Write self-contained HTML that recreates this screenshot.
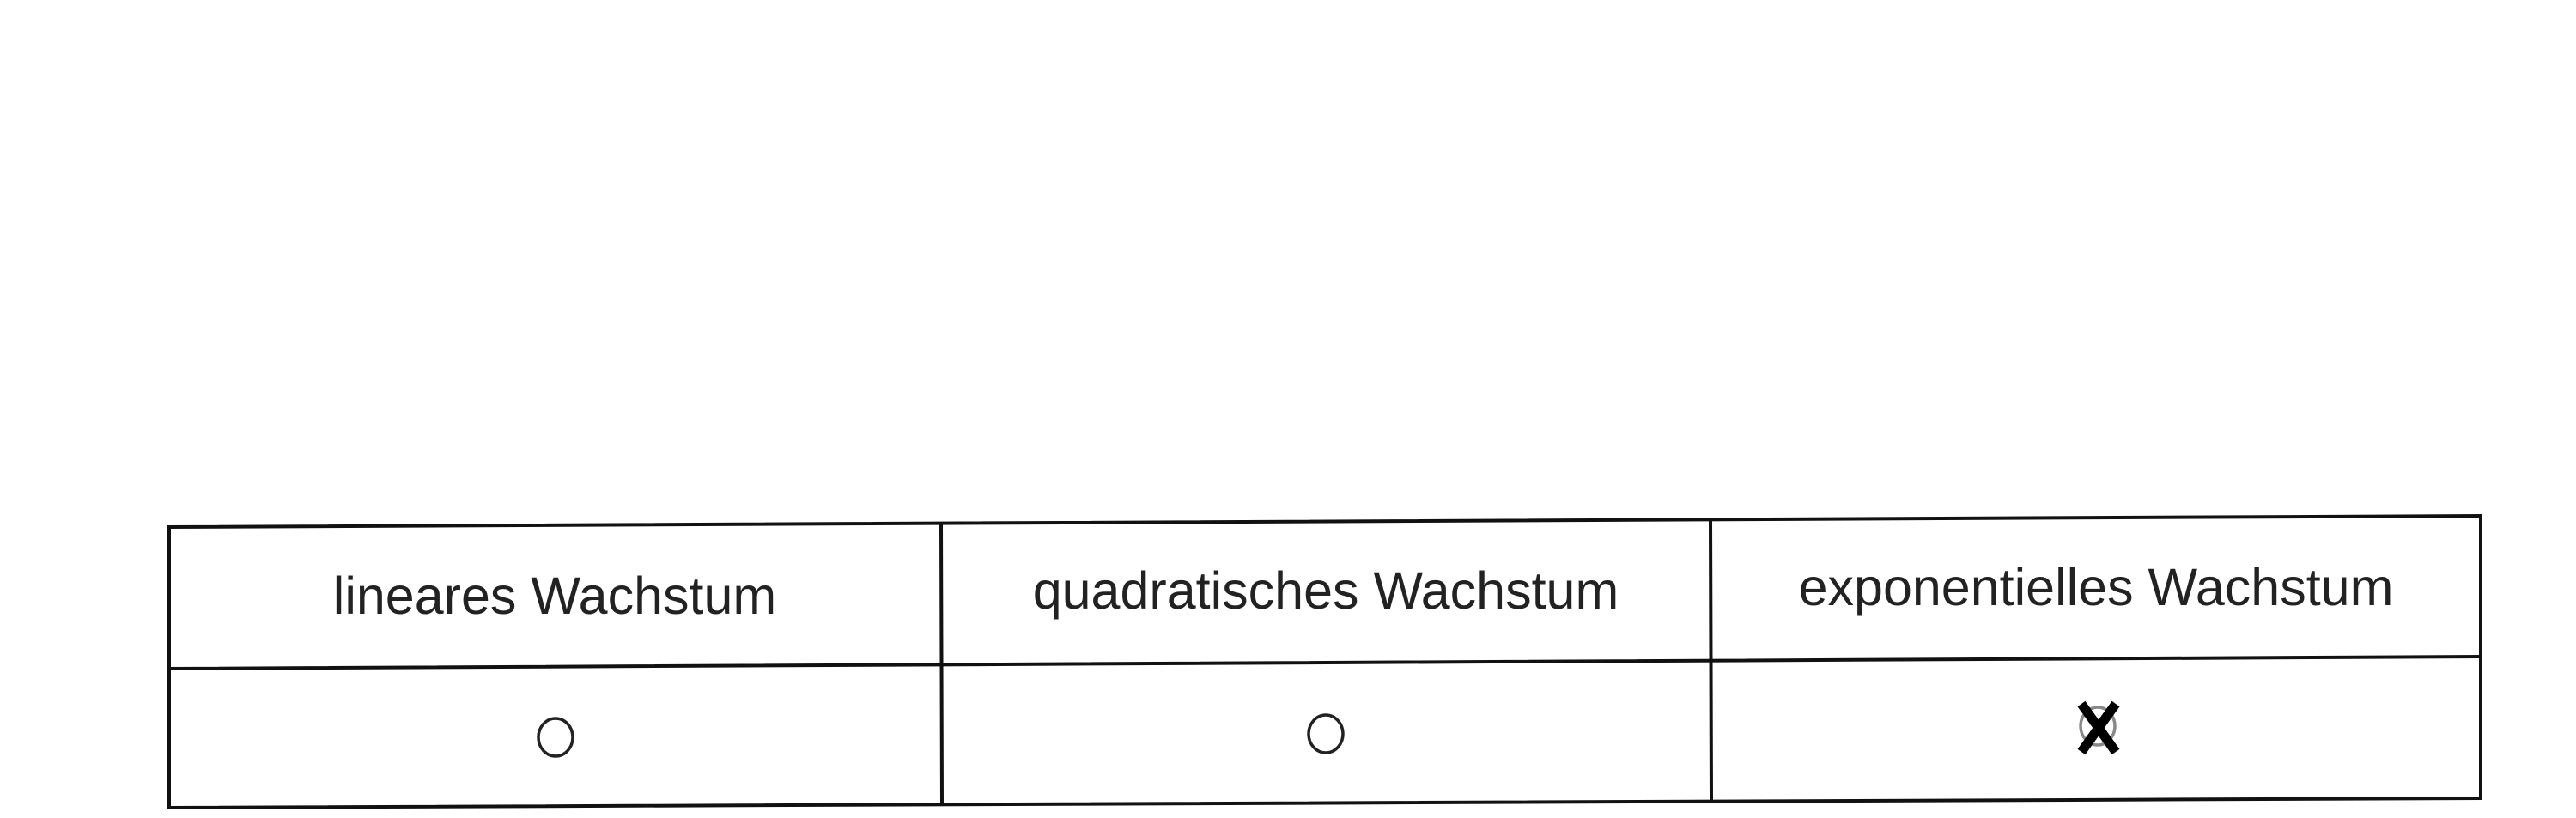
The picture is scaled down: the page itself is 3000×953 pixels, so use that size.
<!DOCTYPE html>
<html><head><meta charset="utf-8"><style>
html,body{margin:0;padding:0;background:#fff;}
svg{display:block;}
text{font-family:"Liberation Sans",Arial,sans-serif;fill:#222;}
</style></head><body>
<svg width="3000" height="953" viewBox="0 0 3000 953" xmlns="http://www.w3.org/2000/svg">
<g stroke="#111" stroke-width="4" fill="none" stroke-linecap="square">
<polygon points="197,614 2889,601 2889,930 197,941"/>
<line x1="197" y1="779" x2="2889" y2="765"/>
<line x1="1096" y1="610" x2="1097" y2="937"/>
<line x1="1992" y1="605" x2="1993" y2="933"/>
</g>
<text x="646" y="715" font-size="61" text-anchor="middle">lineares Wachstum</text>
<text x="1544" y="709" font-size="61" text-anchor="middle">quadratisches Wachstum</text>
<text x="2441" y="705" font-size="61" text-anchor="middle">exponentielles Wachstum</text>
<g stroke="#222" stroke-width="3.5" fill="none">
<ellipse cx="647" cy="859" rx="20" ry="22"/>
<ellipse cx="1544" cy="855" rx="20" ry="22"/>
<ellipse cx="2443" cy="846" rx="20" ry="22" stroke="#888"/>
</g>
<g stroke="#000" stroke-width="11">
<line x1="2424" y1="820" x2="2464" y2="876"/>
<line x1="2464" y1="820" x2="2424" y2="876"/>
</g>
</svg>
</body></html>
